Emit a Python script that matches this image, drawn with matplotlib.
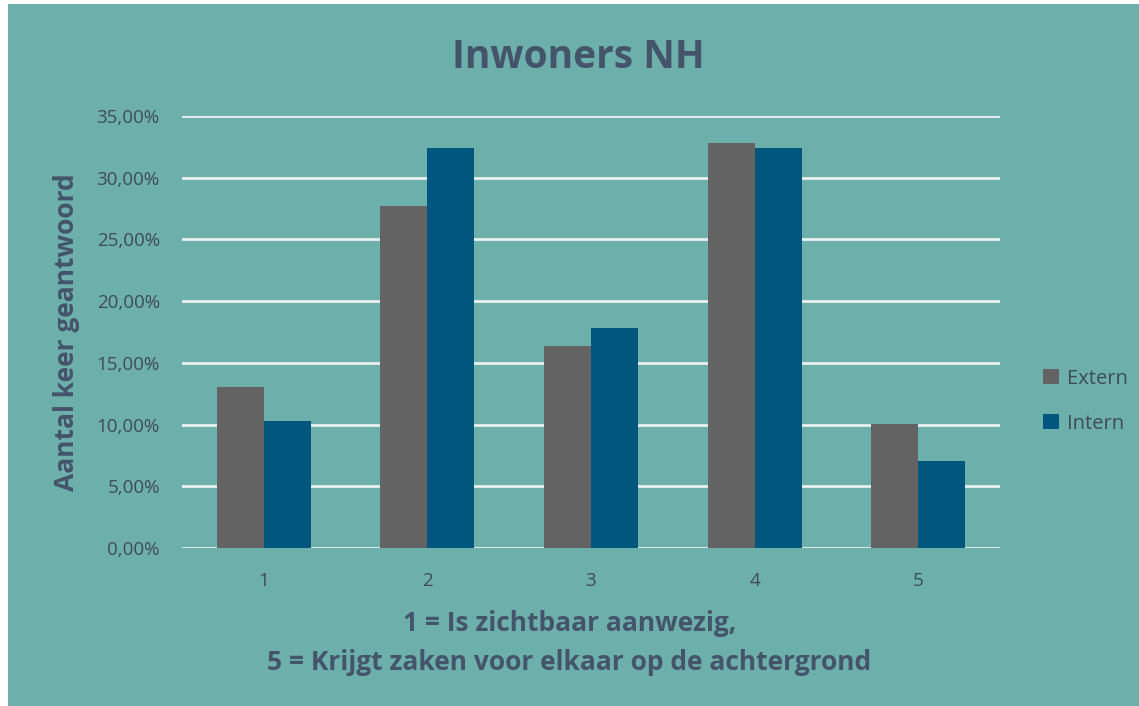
import numpy as np
import matplotlib.pyplot as plt
from matplotlib.patches import Rectangle
from matplotlib.ticker import FuncFormatter

categories = ["1", "2", "3", "4", "5"]
extern = [13.05, 27.7, 16.4, 32.8, 10.05]
intern = [10.3, 32.4, 17.8, 32.4, 7.05]
yticks = [0, 5, 10, 15, 20, 25, 30, 35]

bg = "#6DAFAA"
text_col = "#44546A"
tick_col = "#3F4B5B"

plt.rcParams["font.family"] = ["Open Sans", "DejaVu Sans"]

fig = plt.figure(figsize=(11.39, 7.06), dpi=100)
fig.patch.set_facecolor("white")
fig.patches.append(Rectangle((8 / 1139, 0), 1 - 8 / 1139, 1 - 4 / 706,
                             transform=fig.transFigure, facecolor=bg,
                             edgecolor="none", zorder=-5))

ax = fig.add_axes([182 / 1139, 1 - 548 / 706, 818 / 1139, 432 / 706])
ax.set_facecolor("none")

x = np.arange(len(categories))
w = 0.287
ax.bar(x - w / 2, extern, w, color="#636363", label="Extern", zorder=3)
ax.bar(x + w / 2, intern, w, color="#00567C", label="Intern", zorder=3)

ax.set_xlim(-0.5, len(categories) - 0.5)
ax.set_ylim(0, 35)
ax.set_yticks(yticks)
ax.yaxis.set_major_formatter(FuncFormatter(lambda v, p: f"{v:.2f}%".replace(".", ",")))
ax.set_xticks(x)
ax.set_xticklabels(categories)
ax.grid(axis="y", color="#E8F0F0", linewidth=2, zorder=1)
ax.tick_params(length=0, colors=tick_col, labelsize=13.5)
ax.tick_params(axis="y", pad=16)
ax.tick_params(axis="x", pad=17)
for s in ax.spines.values():
    s.set_visible(False)

ax.set_ylabel("Aantal keer geantwoord", fontsize=19, fontweight="bold",
              color=text_col, labelpad=12)
fig.text(0.5, 1 - 643 / 706, "1 = Is zichtbaar aanwezig,\n5 = Krijgt zaken voor elkaar op de achtergrond",
         ha="center", va="center", fontsize=19, fontweight="bold",
         color=text_col, linespacing=1.55)
fig.text(0.508, 1 - 58 / 706, "Inwoners NH", ha="center", va="center",
         fontsize=28, fontweight="bold", color=text_col)

ax.legend(loc="center left", bbox_to_anchor=(1.031, 0.34), frameon=False,
          fontsize=14.5, labelcolor=tick_col, handlelength=0.75, handleheight=0.75,
          handletextpad=0.4, labelspacing=1.25)

fig.savefig("out.png", dpi=100, facecolor=fig.get_facecolor())
